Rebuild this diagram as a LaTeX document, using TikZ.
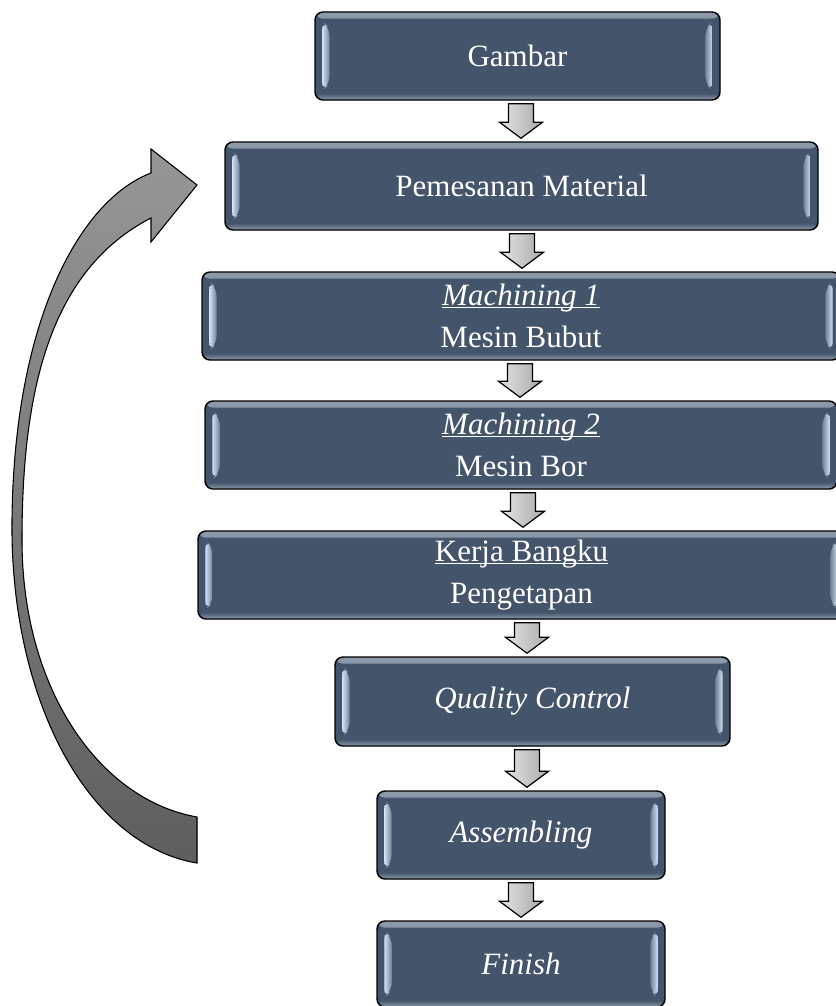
\documentclass[tikz,border=0pt]{standalone}
\usepackage{fontspec}
\setmainfont{Liberation Serif}
\usetikzlibrary{calc}
\definecolor{boxfill}{HTML}{44546A}
\definecolor{bevtop}{HTML}{8E9BAD}
\definecolor{hilite}{HTML}{D4E0F0}
\definecolor{hiedge}{HTML}{6F819A}
\definecolor{arrlight}{HTML}{E4E4E4}
\definecolor{arrdark}{HTML}{A9A9A9}
\definecolor{bigtop}{HTML}{969696}
\definecolor{bigbot}{HTML}{5E5E5E}

\newcommand\uln[1]{\setbox0\hbox{#1}\rlap{\rule[-2.4pt]{\wd0}{1.1pt}}\box0}

\newcommand\downarr[3]{%
  \filldraw[arr] ($(#3,0 |- #1.south)+(-12.5,3)$) -- ($(#3,0 |- #1.south)+(12.5,3)$)
    -- ($(#3,0 |- #2.north)+(12.5,-19)$) -- ($(#3,0 |- #2.north)+(21.5,-19)$)
    -- ($(#3,0 |- #2.north)+(0,-3)$) -- ($(#3,0 |- #2.north)+(-21.5,-19)$)
    -- ($(#3,0 |- #2.north)+(-12.5,-19)$) -- cycle;}

\tikzset{
  flowbox/.style={draw=black, line width=1.1pt, fill=boxfill, rounded corners=6pt,
    text=white, inner sep=0pt, align=center,
    font=\fontsize{23.25}{32}\selectfont, minimum height=66pt,
    path picture={
      \shade[top color=bevtop, bottom color=boxfill]
        (path picture bounding box.north west) rectangle ([yshift=-5pt]path picture bounding box.north east);
      \shade[bottom color=bevtop, top color=boxfill]
        (path picture bounding box.south west) rectangle ([yshift=5pt]path picture bounding box.south east);
      \shade[left color=hilite, right color=hiedge]
        ([xshift=5.5pt,yshift=-7pt]path picture bounding box.north west)
        -- ([xshift=11pt,yshift=-12.5pt]path picture bounding box.north west)
        -- ([xshift=11pt,yshift=12.5pt]path picture bounding box.south west)
        -- ([xshift=5.5pt,yshift=7pt]path picture bounding box.south west) -- cycle;
      \shade[right color=hilite, left color=hiedge]
        ([xshift=-5.5pt,yshift=-7pt]path picture bounding box.north east)
        -- ([xshift=-11pt,yshift=-12.5pt]path picture bounding box.north east)
        -- ([xshift=-11pt,yshift=12.5pt]path picture bounding box.south east)
        -- ([xshift=-5.5pt,yshift=7pt]path picture bounding box.south east) -- cycle;
    }},
  arr/.style={draw=black, line width=0.9pt, left color=arrlight, right color=arrdark, line join=miter},
  bigarr/.style={draw=black, line width=0.8pt, top color=bigtop, bottom color=bigbot},
}

\begin{document}
\begin{tikzpicture}[x=0.75pt, y=-0.75pt]
\useasboundingbox (0,0) rectangle (835,1006);

\node[flowbox, minimum width=303.75pt] (b1) at (517.5,56) {Gambar};
\node[flowbox, minimum width=444.75pt] (b2) at (521.5,186) {Pemesanan Material};
\node[flowbox, minimum width=478.5pt] (b3) at (521,316) {\uln{\textit{Machining 1}}\\Mesin Bubut};
\node[flowbox, minimum width=474pt] (b4) at (521,445) {\uln{\textit{Machining 2}}\\Mesin Bor};
\node[flowbox, minimum width=485.25pt] (b5) at (521.5,575) {\uln{Kerja Bangku}\\Pengetapan};
\node[flowbox, minimum width=296.25pt, minimum height=66.75pt] (b6) at (532.5,701.5) {\textit{Quality Control}};
\node[flowbox, minimum width=216pt] (b7) at (521,835) {\textit{Assembling}};
\node[flowbox, minimum width=216pt, minimum height=64.5pt] (b8) at (521,964) {\textit{Finish}};

\downarr{b1}{b2}{521}
\downarr{b2}{b3}{522}
\downarr{b3}{b4}{520}
\downarr{b4}{b5}{523}
\downarr{b5}{b6}{527}
\downarr{b6}{b7}{527}
\downarr{b7}{b8}{521}

\filldraw[bigarr] (151,173) .. controls (80,200) and (14,320) .. (12,520)
  .. controls (10,700) and (88,845) .. (197,863) -- (197,817)
  .. controls (100,800) and (22,690) .. (22,540)
  .. controls (22,390) and (50,270) .. (151,218)
  -- (151,242) -- (197,185) -- (151,149) -- cycle;
\end{tikzpicture}
\end{document}
